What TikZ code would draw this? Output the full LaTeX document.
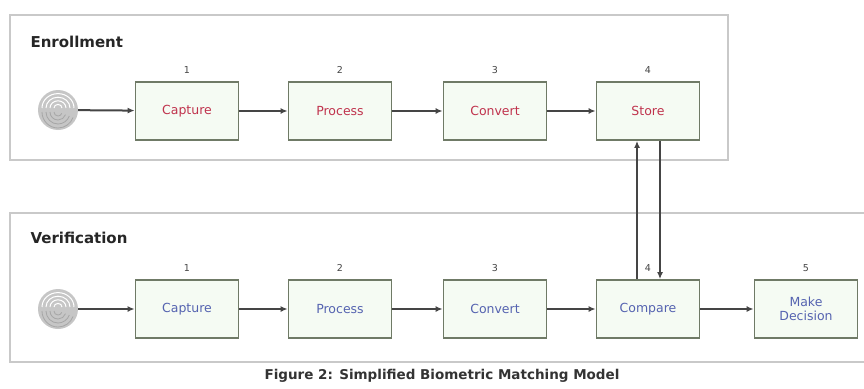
\documentclass[tikz,border=0pt]{standalone}
\usepackage{fontspec}
\setmainfont{DejaVu Sans}
\usetikzlibrary{arrows.meta}
\definecolor{panelc}{HTML}{C9C9C9}
\definecolor{boxc}{HTML}{6F7A66}
\definecolor{boxfill}{HTML}{F5FBF3}
\definecolor{enrc}{HTML}{C0334D}
\definecolor{verc}{HTML}{5563B0}
\definecolor{arrc}{HTML}{454545}
\tikzset{
  panel/.style={draw=panelc, line width=2.5pt, fill=white},
  stepbox/.style={draw=boxc, line width=1.8pt, fill=boxfill, minimum width=103pt, minimum height=58pt, inner sep=0pt, font=\fontsize{12.5}{14}\selectfont, align=center},
  enr/.style={stepbox, text=enrc},
  ver/.style={stepbox, text=verc},
  num/.style={font=\fontsize{9.5}{10}\selectfont, text=arrc},
  conn/.style={draw=arrc, line width=2pt, -{Latex[length=7pt,width=6pt]}},
  title/.style={font=\fontsize{15}{17}\selectfont\bfseries, anchor=west, text=black!85},
  fp/.style={circle, fill=gray!45, minimum size=40pt, inner sep=0pt}
}
\begin{document}
\begin{tikzpicture}[x=1pt,y=-1pt]
\useasboundingbox (0,0) rectangle (864,388);
\clip (0,0) rectangle (864,388);
\fill[white] (0,0) rectangle (864,388);
% panels
\draw[panel] (10,15) rectangle (728,160);
\draw[panel] (10,213) rectangle (880,362);
\node[title] (enrt) at (27,42) {Enrollment};
\node[title] (vert) at (27,238) {Verification};
% fingerprints
\foreach \n/\y in {fpa/110, fpb/309} {
  \node[fp] (\n) at (58,\y) {};
  \foreach \r in {4,8,12,16} {
    \draw[white, line width=1pt] ([yshift=2]\n.center) ++(-\r,0) arc[start angle=180, end angle=360, x radius=\r, y radius=\r*0.9];
    \draw[gray!70, line width=0.8pt] ([yshift=-2]\n.center) ++(-\r,0) arc[start angle=180, end angle=20, radius=\r];
  }
}
% enrollment boxes
\node[enr] (ea) at (187,111) {Capture};
\node[enr] (eb) at (340,111) {Process};
\node[enr] (ec) at (495,111) {Convert};
\node[enr] (ed) at (648,111) {Store};
% verification boxes
\node[ver] (va) at (187,309) {Capture};
\node[ver] (vb) at (340,309) {Process};
\node[ver] (vc) at (495,309) {Convert};
\node[ver] (vd) at (648,309) {Compare};
\node[ver] (ve) at (806,309) {Make\\Decision};
% numbers
\foreach \b/\t in {ea/1, eb/2, ec/3, ed/4, va/1, vb/2, vc/3, vd/4, ve/5}
  \node[num, above=4pt] at (\b.north) {\t};
% connectors
\draw[conn] (fpa) -- (ea);
\draw[conn] (ea) -- (eb);
\draw[conn] (eb) -- (ec);
\draw[conn] (ec) -- (ed);
\draw[conn] (fpb) -- (va);
\draw[conn] (va) -- (vb);
\draw[conn] (vb) -- (vc);
\draw[conn] (vc) -- (vd);
\draw[conn] (vd) -- (ve);
\draw[conn] ([xshift=-11pt]vd.north) -- ([xshift=-11pt]ed.south);
\draw[conn] ([xshift=12pt]ed.south) -- ([xshift=12pt]vd.north);
% caption
\node[font=\fontsize{13.5}{15}\selectfont\bfseries, text=black!80] (cap) at (442,376) {Figure 2: Simplified Biometric Matching Model};
\end{tikzpicture}
\end{document}
